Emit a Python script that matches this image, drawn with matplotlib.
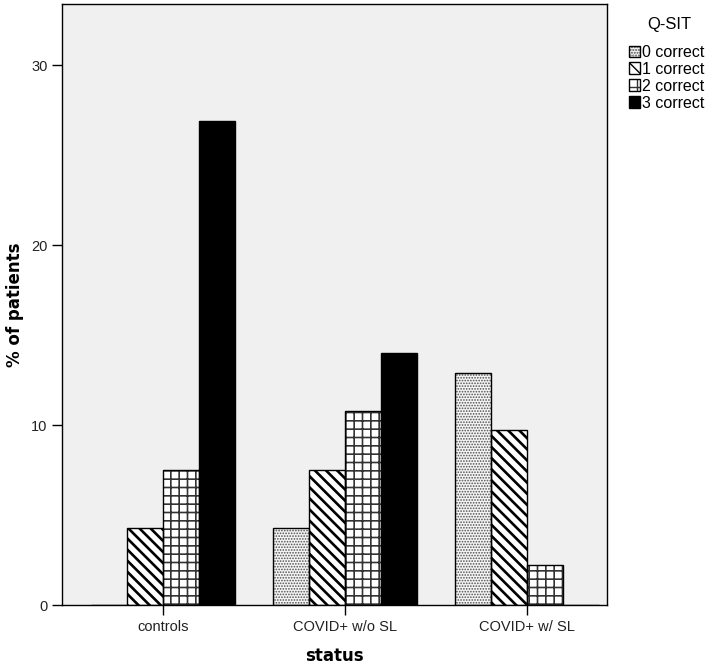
import matplotlib
matplotlib.use("Agg")
import matplotlib.pyplot as plt
from matplotlib.patches import Patch
import numpy as np

plt.rcParams["font.family"] = ["Liberation Sans", "DejaVu Sans"]

categories = ["controls", "COVID+ w/o SL", "COVID+ w/ SL"]
series_names = ["0 correct", "1 correct", "2 correct", "3 correct"]
zero_correct = [0, 4.3, 12.9]
one_correct = [4.3, 7.5, 9.7]
two_correct = [7.5, 10.8, 2.2]
three_correct = [26.9, 14.0, 0]
y_ticks = [0, 10, 20, 30]

series = [zero_correct, one_correct, two_correct, three_correct]
# facecolor, hatch, hatch colour, hatch linewidth
styles = [
    ("#f4f4f4", "......", "#505050", 0.8),
    ("white", "\\\\\\", "black", 1.9),
    ("white", "++", "#333333", 1.2),
    ("black", "", "black", 1.0),
]

fig = plt.figure(figsize=(7.11, 6.68), dpi=100)
ax = fig.add_axes([0.0872, 0.0943, 0.767, 0.9])
ax.set_facecolor("#f0f0f0")

x = np.arange(len(categories))
width = 0.198
handles = []
for i, (vals, (fc, hatch, hc, hlw)) in enumerate(zip(series, styles)):
    pos = x + (i - 1.5) * width
    with plt.rc_context({"hatch.linewidth": hlw}):
        bars = ax.bar(pos, vals, width, color=fc, edgecolor=hc, hatch=hatch, linewidth=0, zorder=2)
        for b in bars:
            if hasattr(b, "set_hatch_linewidth"):
                b.set_hatch_linewidth(hlw)
        ax.bar(pos, vals, width, fill=False, edgecolor="black", linewidth=1, zorder=3)
        h1 = Patch(facecolor=fc, edgecolor=hc, hatch=hatch, linewidth=0)
        if hasattr(h1, "set_hatch_linewidth"):
            h1.set_hatch_linewidth(hlw)
    h2 = Patch(fill=False, edgecolor="black", linewidth=1)
    handles.append((h1, h2))

ax.set_xlim(-0.555, 2.44)
ax.set_ylim(0, 33.4)
ax.set_yticks(y_ticks)
ax.set_xticks(x)
ax.set_xticklabels(categories)
ax.tick_params(axis="both", direction="out", length=7, width=1, labelsize=10.5, colors="black")
ax.tick_params(axis="both", labelcolor="#222222")
for s in ax.spines.values():
    s.set_linewidth(1)
    s.set_color("black")

ax.set_xlabel("status", fontsize=12, fontweight="bold", family="DejaVu Sans", labelpad=10)
ax.set_ylabel("% of patients", fontsize=12, fontweight="bold", family="DejaVu Sans")
ax.yaxis.set_label_coords(-0.07, 0.5)

fig.text(0.941, 0.964, "Q-SIT", ha="center", va="center", fontsize=12)
leg = fig.legend(handles, series_names, loc="upper left", bbox_to_anchor=(0.884, 0.933),
                 frameon=False, fontsize=11.5,
                 handlelength=0.7, handleheight=0.7, handletextpad=0.15, labelspacing=0.12,
                 borderaxespad=0, borderpad=0)

fig.savefig("out.png", dpi=100)
